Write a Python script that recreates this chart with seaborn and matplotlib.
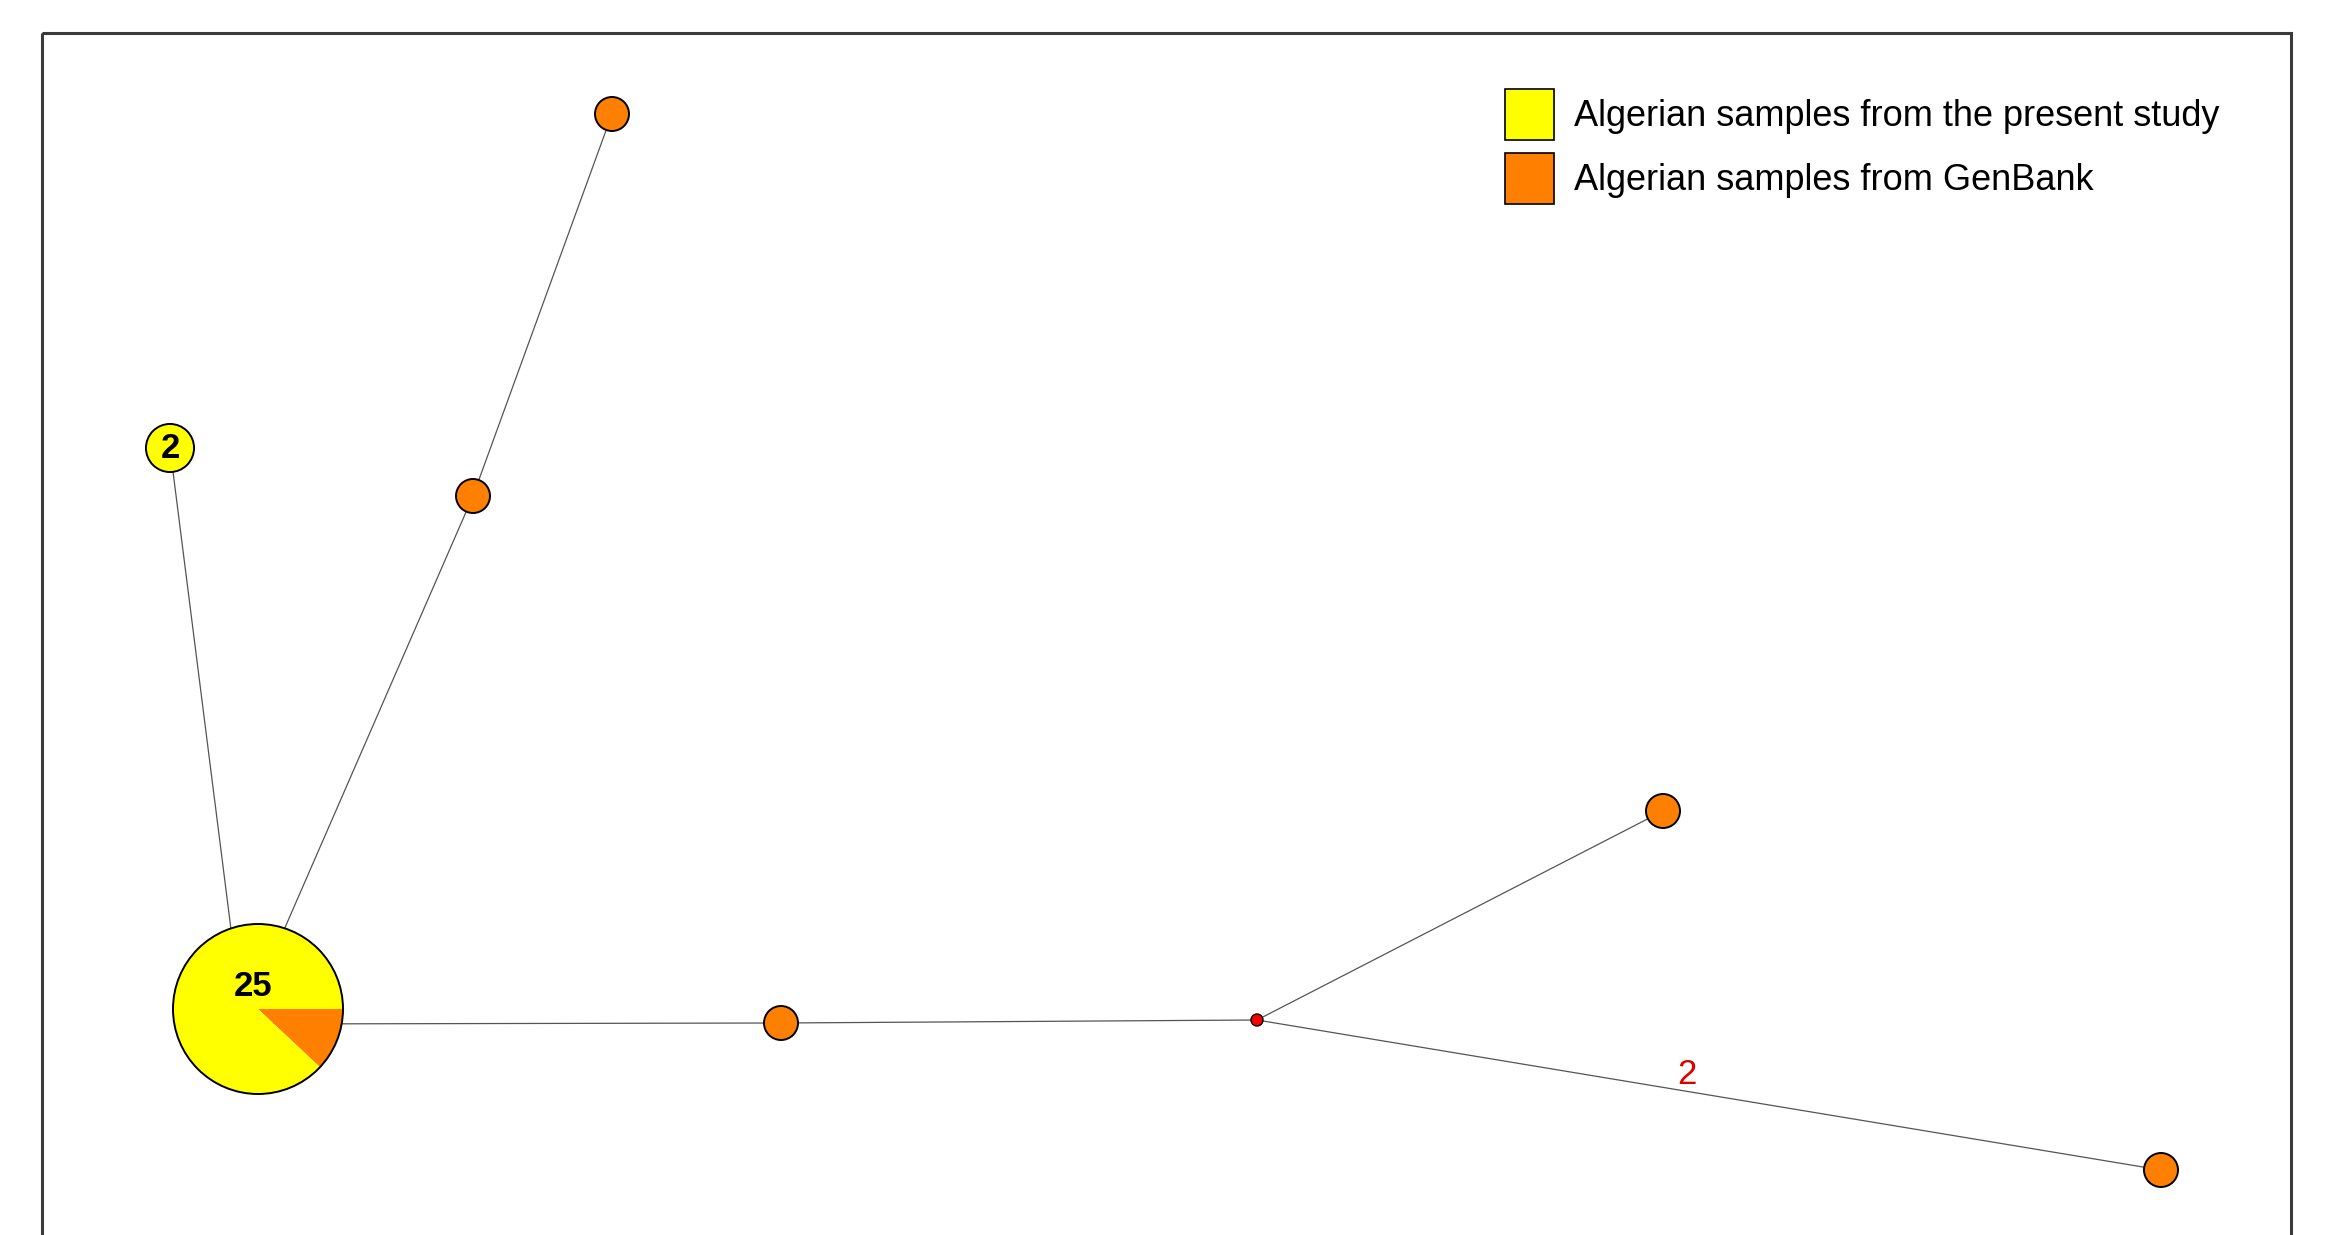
import numpy as np
import pandas as pd
import matplotlib
matplotlib.use("Agg")
import matplotlib.pyplot as plt
from matplotlib.patches import Circle, Wedge, Rectangle, Patch
import seaborn as sns

# Haplotype network: node positions (pixel layout), sample counts per source
node_ids = ["H1", "H2", "H3", "H4", "H5", "H6", "H7", "mv1"]
node_x = [258, 170, 473, 612, 781, 1663, 2161, 1257]
node_y = [1009, 448, 496, 114, 1023, 811, 1170, 1020]
present_study = [22, 2, 0, 0, 0, 0, 0, 0]
genbank = [3, 0, 1, 1, 1, 1, 1, 0]

# Links between haplotypes, with number of mutational steps
edge_from = ["H1", "H1", "H3", "H1", "H5", "mv1", "mv1"]
edge_to = ["H2", "H3", "H4", "H5", "mv1", "H6", "H7"]
edge_steps = [1, 1, 1, 1, 1, 1, 2]

legend_labels = ["Algerian samples from the present study",
                 "Algerian samples from GenBank"]

YELLOW = "#ffff00"
ORANGE = "#ff8000"
EDGE_GREY = "#555555"
W, H = 2332, 1235
UNIT_R = 17
PIE_LINK_OFFSET = (-15, 15)   # links attach slightly off-centre on pie nodes

sns.set_theme(style="white")
plt.rcParams["font.family"] = ["Liberation Sans", "DejaVu Sans"]

fig = plt.figure(figsize=(W / 100, H / 100), dpi=100)
ax = fig.add_axes([0, 0, 1, 1])

pos = {n: (x, y) for n, x, y in zip(node_ids, node_x, node_y)}
link_pos = {}
for n, ps, gb in zip(node_ids, present_study, genbank):
    x, y = pos[n]
    if ps > 0 and gb > 0:
        link_pos[n] = (x + PIE_LINK_OFFSET[0], y + PIE_LINK_OFFSET[1])
    else:
        link_pos[n] = (x, y)

# edges
rows = []
for i, (a, b) in enumerate(zip(edge_from, edge_to)):
    rows.append({"edge": i, "order": 0, "x": link_pos[a][0], "y": link_pos[a][1]})
    rows.append({"edge": i, "order": 1, "x": link_pos[b][0], "y": link_pos[b][1]})
edges_df = pd.DataFrame(rows)
sns.lineplot(data=edges_df, x="x", y="y", units="edge", estimator=None,
             sort=False, color=EDGE_GREY, linewidth=0.9, ax=ax, zorder=1,
             legend=False)

# mutation counts above multi-step edges
for a, b, k in zip(edge_from, edge_to, edge_steps):
    if k > 1:
        (x0, y0), (x1, y1) = link_pos[a], link_pos[b]
        t = 0.476
        ax.text(x0 + t * (x1 - x0), y0 + t * (y1 - y0) - 17, str(k),
                color="#dd0000", fontsize=25, ha="center", va="center",
                zorder=5)

# nodes
for n, ps, gb in zip(node_ids, present_study, genbank):
    cx, cy = pos[n]
    total = ps + gb
    if total == 0:
        ax.add_patch(Circle((cx, cy), 6, facecolor="#ff0000",
                            edgecolor="black", linewidth=1.0, zorder=3))
        continue
    r = UNIT_R * np.sqrt(total)
    if ps > 0 and gb > 0:
        ang = 360 * gb / total
        ax.add_patch(Wedge((cx, cy), r, 0, ang, facecolor=ORANGE,
                           edgecolor="none", zorder=3))
        ax.add_patch(Wedge((cx, cy), r, ang, 360, facecolor=YELLOW,
                           edgecolor="none", zorder=3))
        ax.add_patch(Circle((cx, cy), r, facecolor="none",
                            edgecolor="black", linewidth=1.4, zorder=4))
    else:
        ax.add_patch(Circle((cx, cy), r,
                            facecolor=YELLOW if ps > 0 else ORANGE,
                            edgecolor="black", linewidth=1.4, zorder=3))
    if total > 1:
        ty = cy - 0.27 * r if (ps > 0 and gb > 0) else cy + 1
        ax.text(cx - (5 if total > 9 else 0), ty, str(total),
                fontsize=25, fontweight="bold", ha="center", va="center",
                color="black", zorder=5)

# panel frame (open at the bottom edge of the canvas)
ax.add_patch(Rectangle((42, 33), 2249, 1400, facecolor="none",
                       edgecolor="#3a3a3a", linewidth=2.2, zorder=6))

handles = [Patch(facecolor=YELLOW, edgecolor="black", linewidth=1.2),
           Patch(facecolor=ORANGE, edgecolor="black", linewidth=1.2)]
leg = ax.legend(handles, legend_labels, loc="upper left",
                bbox_to_anchor=(1505, 89), bbox_transform=ax.transData,
                frameon=False, fontsize=26, borderpad=0, borderaxespad=0,
                handlelength=1.36, handleheight=1.8, labelspacing=0.36,
                handletextpad=0.55, labelcolor="black")

ax.set_xlim(0, W)
ax.set_ylim(H, 0)
ax.axis("off")

fig.savefig("out.png", dpi=100, facecolor="white")
